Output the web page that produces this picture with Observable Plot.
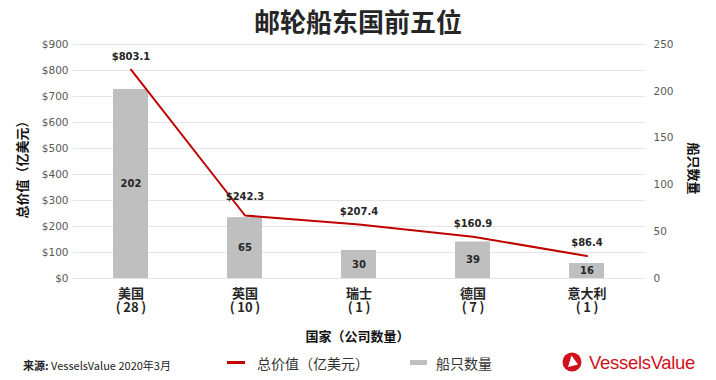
<!DOCTYPE html>
<html><head><meta charset="utf-8">
<script src="https://cdn.jsdelivr.net/npm/d3@7"></script>
<script src="https://cdn.jsdelivr.net/npm/@observablehq/plot@0.6"></script>
<style>
body{margin:0;background:#fff;font-family:"Noto Sans CJK SC","DejaVu Sans",sans-serif;}
#wrap{position:relative;width:716px;height:380px;overflow:hidden;background:#fff;}
#title{position:absolute;left:0;top:0;width:716px;height:42px;text-align:center;font-size:26px;font-weight:bold;line-height:42px;color:#262626;}
#chart{position:absolute;left:0;top:36px;}
.foot{position:absolute;white-space:nowrap;}
#source{left:23px;top:357px;font-size:11px;line-height:16px;color:#222;}
#source b{font-weight:bold;}
.sw{position:absolute;}
.lg{font-size:14px;line-height:18px;color:#333;top:354px;}
#logo{position:absolute;left:562px;top:350px;}
</style>
</head><body>
<div id="wrap">
  <div id="title">邮轮船东国前五位</div>
  <div id="chart"></div>
  <div class="foot" id="source"><b>来源:</b> VesselsValue 2020年3月</div>
  <div class="sw" style="left:227px;top:361px;width:18px;height:3px;background:#c00000"></div>
  <div class="foot lg" style="left:257px">总价值（亿美元）</div>
  <div class="sw" style="left:410px;top:360px;width:17px;height:5px;background:#bfbfbf"></div>
  <div class="foot lg" style="left:436px">船只数量</div>
  <svg id="logo" width="150" height="26" viewBox="0 0 150 26">
    <circle cx="10" cy="12" r="9.5" fill="#d0111b"/>
    <polygon points="6,17 9.5,5.5 16,14.5" fill="#fff"/>
    <text x="27" y="19" font-family="Liberation Sans, Arial, sans-serif" font-size="18.5" fill="#d0111b" letter-spacing="-0.3">VesselsValue</text>
  </svg>
</div>
<script>
const countries = ["美国", "英国", "瑞士", "德国", "意大利"];
const companies = [28, 10, 1, 7, 1];
const totalValue = [803.1, 242.3, 207.4, 160.9, 86.4];
const ships = [202, 65, 30, 39, 16];
const valueTicks = [0, 100, 200, 300, 400, 500, 600, 700, 800, 900];
const shipTicks = [0, 50, 100, 150, 200, 250];

const k = 900 / 250; // ships -> value-axis units
const data = countries.map((c, i) => ({country: c, companies: companies[i], value: totalValue[i], ships: ships[i]}));

const chart = Plot.plot({
  width: 716,
  height: 310,
  marginTop: 8,
  marginBottom: 68,
  marginLeft: 73,
  marginRight: 71,
  style: {fontFamily: "'DejaVu Sans','Noto Sans CJK SC',sans-serif", color: "#595959", background: "#fff"},
  x: {domain: countries, paddingInner: 0.69, paddingOuter: 0.345},
  y: {domain: [0, 900]},
  marks: [
    Plot.gridY(valueTicks, {stroke: "#e4e4e4", strokeOpacity: 1}),
    Plot.barY(data, {x: "country", y: d => d.ships * k, fill: "#bfbfbf"}),
    Plot.text(data, {x: "country", y: d => d.ships * k / 2, text: d => String(d.ships), fontSize: 10, fontWeight: "bold", fill: "#262626"}),
    Plot.lineY(data, {x: "country", y: "value", stroke: "#c00000", strokeWidth: 2}),
    Plot.text(data.filter(d => d.country !== "英国"), {x: "country", y: "value", text: d => "$" + d.value.toFixed(1), dy: -13, fontSize: 10, fontWeight: "bold", fill: "#262626"}),
    Plot.text(data.filter(d => d.country === "英国"), {x: "country", y: "value", text: d => "$" + d.value.toFixed(1), dy: -19, fontSize: 10, fontWeight: "bold", fill: "#262626"}),
    Plot.axisY(valueTicks, {anchor: "left", tickSize: 0, tickPadding: 5, tickFormat: d => "$" + d, label: null, fontSize: 10.5}),
    Plot.axisY(shipTicks.map(d => d * k), {anchor: "right", tickSize: 0, tickPadding: 8, tickFormat: d => String(Math.round(d / k)), label: null, fontSize: 10.5}),
    Plot.axisX({tickSize: 0, tickPadding: 9, tickFormat: d => d + "\n(\u2009" + companies[countries.indexOf(d)] + "\u2009)", label: null, fontSize: 13, fontWeight: "bold", fill: "#262626", lineHeight: 1.12, fontFamily: "'Noto Sans CJK SC',sans-serif"}),
    Plot.text(["总价值（亿美元）"], {text: d => d, frameAnchor: "left", textAnchor: "middle", dx: -51, dy: 5, rotate: -90, fontSize: 13, fontWeight: "bold", fill: "#111", fontFamily: "'Noto Sans CJK SC',sans-serif"}),
    Plot.text(["船只数量"], {text: d => d, frameAnchor: "right", textAnchor: "middle", dx: 48, dy: 7, rotate: 90, fontSize: 13, fontWeight: "bold", fill: "#111", fontFamily: "'Noto Sans CJK SC',sans-serif"}),
    Plot.text(["国家（公司数量）"], {text: d => d, frameAnchor: "bottom", dy: 62, dx: -2, fontSize: 13, fontWeight: "bold", fill: "#111", fontFamily: "'Noto Sans CJK SC',sans-serif"})
  ]
});
document.getElementById("chart").append(chart);
</script>
</body></html>
